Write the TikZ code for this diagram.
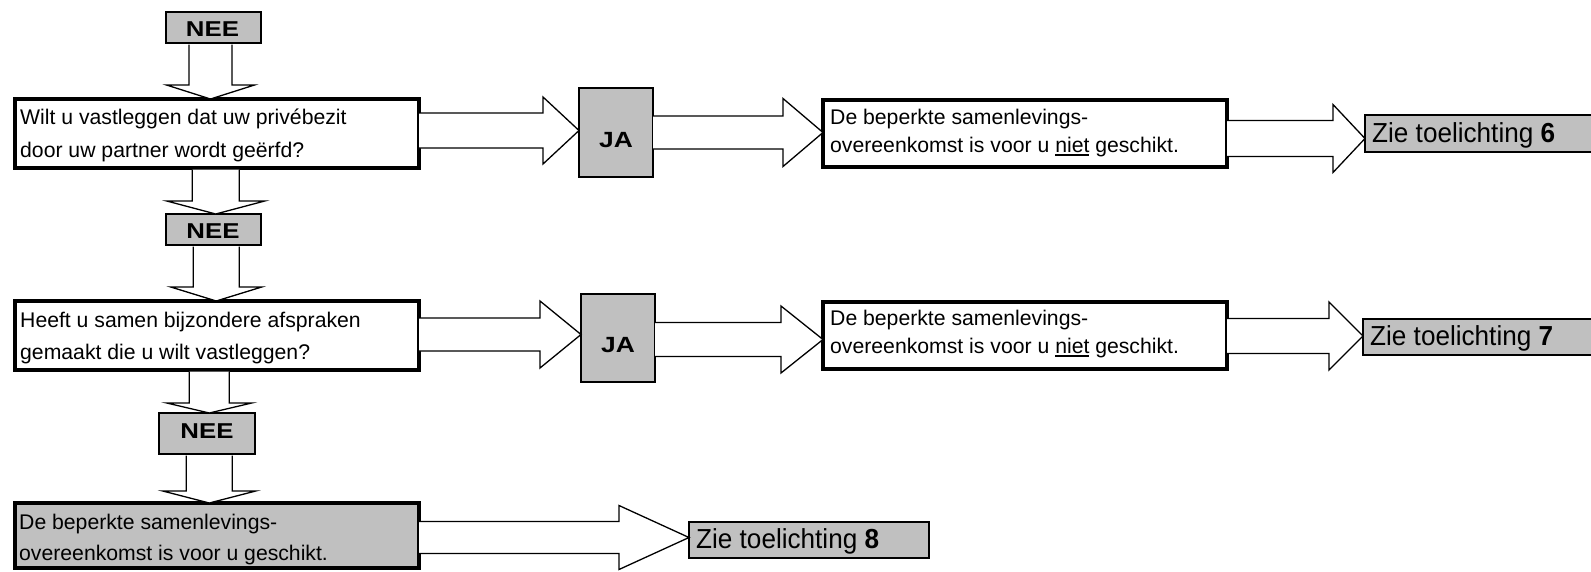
\documentclass[tikz,border=0pt]{standalone}
\usepackage{fontspec}
\setmainfont{Liberation Sans}
\newfontfamily\ziefont[FakeStretch=0.95]{Liberation Sans}
\newfontfamily\lblfont[FakeStretch=1.2]{Liberation Sans}
\usetikzlibrary{calc}
\definecolor{boxgray}{RGB}{192,192,192}
\newlength\ulw
\newcommand\myul[1]{\settowidth\ulw{#1}\rlap{\rule[-3.5pt]{\ulw}{1.6pt}}#1}
\newcommand\twolines[3]{\begin{tabular}[t]{@{}l@{}}#1\\[#3]#2\end{tabular}}
\tikzset{
  thickbox/.style={draw=black, line width=4pt, fill=white, outer sep=0pt, inner sep=0pt},
  thickgray/.style={thickbox, fill=boxgray},
  graybox/.style={draw=black, line width=1.8pt, fill=boxgray, outer sep=0pt, inner sep=0pt},
  boxtext/.style={anchor=base west, inner sep=0pt, font=\fontsize{21.2}{28}\selectfont},
  lbltext/.style={anchor=base, inner sep=0pt, font=\lblfont\bfseries\fontsize{21.5}{25}\selectfont},
  zietext/.style={anchor=base west, inner sep=0pt, font=\ziefont\fontsize{27.5}{32}\selectfont},
  arrowline/.style={draw=black, line width=1.3pt, line join=miter},
}
% right block arrow: from, to, shaft half, head half, head length, dy
\newcommand\rarrow[6]{%
  \coordinate (ta) at ($(#2.west)+(0,#6)$);
  \coordinate (sa) at (#1.east |- ta);
  \fill[white] ($(sa)+(0,-#3)$) -- ($(ta)+(-#5,-#3)$) -- ($(ta)+(-#5,-#4)$) -- (ta) -- ($(ta)+(-#5,#4)$) -- ($(ta)+(-#5,#3)$) -- ($(sa)+(0,#3)$) -- cycle;
  \draw[arrowline] ($(sa)+(0,-#3)$) -- ($(ta)+(-#5,-#3)$) -- ($(ta)+(-#5,-#4)$) -- (ta) -- ($(ta)+(-#5,#4)$) -- ($(ta)+(-#5,#3)$) -- ($(sa)+(0,#3)$);
}
% down block arrow: from, to, shaft half, head half, head length, dx
\newcommand\darrow[6]{%
  \coordinate (mida) at ($(#1.south)!.5!(#2.north)$);
  \coordinate (midb) at ($(mida)+(#6,0)$);
  \coordinate (sd) at ($(midb |- #1.south)+(0,1.5)$);
  \coordinate (td) at (midb |- #2.north);
  \fill[white] ($(sd)+(-#3,0)$) -- ($(td)+(-#3,-#5)$) -- ($(td)+(-#4,-#5)$) -- (td) -- ($(td)+(#4,-#5)$) -- ($(td)+(#3,-#5)$) -- ($(sd)+(#3,0)$) -- cycle;
  \draw[arrowline] ($(sd)+(-#3,0)$) -- ($(td)+(-#3,-#5)$) -- ($(td)+(-#4,-#5)$) -- (td) -- ($(td)+(#4,-#5)$) -- ($(td)+(#3,-#5)$) -- ($(sd)+(#3,0)$);
}
\begin{document}
\begin{tikzpicture}[x=1pt, y=-1pt]
\useasboundingbox (0,0) rectangle (1591,571);
\clip (0,0) rectangle (1591,571);
% boxes
\node[graybox, minimum width=95pt, minimum height=31pt] (nee1) at (213.5,27.5) {};
\node[thickbox, minimum width=404pt, minimum height=69pt] (box1) at (217,133.5) {};
\node[graybox, minimum width=74pt, minimum height=89pt] (ja1) at (616,132.5) {};
\node[thickbox, minimum width=404pt, minimum height=67pt] (box2) at (1025,133.5) {};
\node[graybox, minimum width=242pt, minimum height=37pt] (zie6) at (1486,133.5) {};
\node[graybox, minimum width=95pt, minimum height=31pt] (nee2) at (213.5,229.5) {};
\node[thickbox, minimum width=404pt, minimum height=69pt] (box3) at (217,335.5) {};
\node[graybox, minimum width=74pt, minimum height=88pt] (ja2) at (618,338) {};
\node[thickbox, minimum width=404pt, minimum height=67pt] (box4) at (1025,335.5) {};
\node[graybox, minimum width=242pt, minimum height=36pt] (zie7) at (1484,337) {};
\node[graybox, minimum width=96pt, minimum height=41pt] (nee3) at (207,433.5) {};
\node[thickgray, minimum width=404pt, minimum height=65pt] (box5) at (217,535.5) {};
\node[graybox, minimum width=240pt, minimum height=36pt] (zie8) at (809,540) {};
% arrows
\darrow{nee1}{box1}{21.5}{44}{14}{-4.75}
\darrow{box1}{nee2}{23.5}{49}{13}{0.5}
\darrow{nee2}{box3}{23}{45.5}{14}{1}
\darrow{box3}{nee3}{20}{42.5}{10}{-2.75}
\darrow{nee3}{box5}{23}{46.5}{12}{-2.75}
\rarrow{box1}{ja1}{17.5}{33.5}{36}{-2}
\rarrow{ja1}{box2}{16.5}{34}{40}{-1}
\rarrow{box2}{zie6}{18}{34}{32}{5}
\rarrow{box3}{ja2}{16.5}{33.5}{41}{-3.5}
\rarrow{ja2}{box4}{17}{33.5}{42}{4}
\rarrow{box4}{zie7}{17.5}{34}{34}{-1}
\rarrow{box5}{zie8}{16}{32}{70}{-2.5}
% texts
\node[lbltext] (nee1t) at (212.5,36) {NEE};
\node[lbltext] (nee2t) at (213,238.5) {NEE};
\node[lbltext] (nee3t) at (207,438.5) {NEE};
\node[lbltext, font=\lblfont\bfseries\fontsize{22}{26}\selectfont] (ja1t) at (616,147) {JA};
\node[lbltext, font=\lblfont\bfseries\fontsize{22}{26}\selectfont] (ja2t) at (618,352) {JA};
\node[boxtext] (b1t) at (20,124) {\twolines{Wilt u vastleggen dat uw privébezit}{door uw partner wordt geërfd?}{5pt}};
\node[boxtext] (b2t) at (830,124) {\twolines{De beperkte samenlevings-}{overeenkomst is voor u \myul{niet} geschikt.}{0pt}};
\node[boxtext] (b3t) at (20,327) {\twolines{Heeft u samen bijzondere afspraken}{gemaakt die u wilt vastleggen?}{4pt}};
\node[boxtext] (b4t) at (830,325) {\twolines{De beperkte samenlevings-}{overeenkomst is voor u \myul{niet} geschikt.}{0pt}};
\node[boxtext] (b5t) at (19,529) {\twolines{De beperkte samenlevings-}{overeenkomst is voor u geschikt.}{3pt}};
\node[zietext] (z6t) at (1372,142) {Zie toelichting \textbf{6}};
\node[zietext] (z7t) at (1370,345) {Zie toelichting \textbf{7}};
\node[zietext] (z8t) at (696,548) {Zie toelichting \textbf{8}};
\end{tikzpicture}
\end{document}
